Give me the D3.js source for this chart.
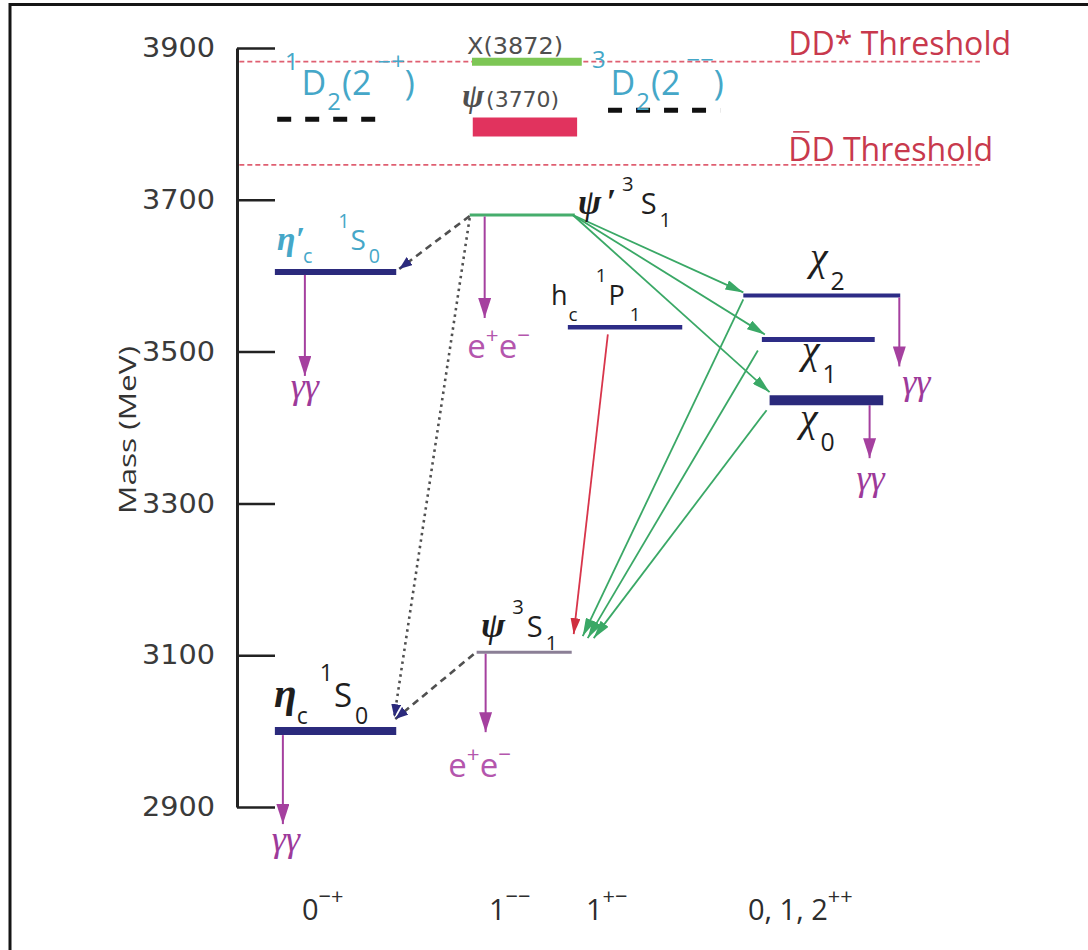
<!DOCTYPE html>
<html>
<head>
<meta charset="utf-8">
<script src="https://cdn.jsdelivr.net/npm/d3@7"></script>
<style>
  body { margin: 0; background: #fff; }
  svg { display: block; }
</style>
</head>
<body>
<script>
// ---- data ----
var massTicks = [2900, 3100, 3300, 3500, 3700, 3900];

var levelIds    = ["etac", "etac2s", "jpsi", "psi2s", "hc", "chi0", "chi1", "chi2", "x3872", "psi3770", "d2singlet", "d2triplet"];
var levelMasses = [3000, 3605, 3104, 3680, 3532, 3436, 3516, 3574, 3882, 3796, 3806, 3818];

var thresholdNames  = ["DD* Threshold", "DD Threshold"];
var thresholdMasses = [3882, 3746];

var columnLabels = [["0", "\u2212+"], ["1", "\u2212\u2212"], ["1", "+\u2212"], ["0, 1, 2", "++"]];

var transitions = [
  {from: "psi2s", to: "chi2", kind: "e1"},
  {from: "psi2s", to: "chi1", kind: "e1"},
  {from: "psi2s", to: "chi0", kind: "e1"},
  {from: "chi2", to: "jpsi", kind: "e1"},
  {from: "chi1", to: "jpsi", kind: "e1"},
  {from: "chi0", to: "jpsi", kind: "e1"},
  {from: "hc", to: "jpsi", kind: "hc"},
  {from: "psi2s", to: "etac2s", kind: "m1"},
  {from: "psi2s", to: "etac", kind: "m1far"},
  {from: "jpsi", to: "etac", kind: "m1"}
];

var decays = [
  {from: "etac2s", product: "gg"},
  {from: "etac", product: "gg"},
  {from: "chi2", product: "gg"},
  {from: "chi0", product: "gg"},
  {from: "psi2s", product: "ee"},
  {from: "jpsi", product: "ee"}
];

// ---- layout ----
var W = 1088, H = 950;
var y = d3.scaleLinear().domain([2900, 3900]).range([807, 48]);
// horizontal position in layout units from the axis
var x = d3.scaleLinear().domain([0, 100]).range([237, 1010]);

var mass = {};
levelIds.forEach(function(id, i) { mass[id] = levelMasses[i]; });

var span = {
  etac: [4.9, 20.6], etac2s: [4.9, 20.6], jpsi: [31.0, 43.3], psi2s: [30.1, 43.7],
  hc: [42.8, 57.6], chi0: [68.9, 83.6], chi1: [67.9, 82.5], chi2: [65.5, 85.8],
  x3872: [30.4, 44.6], psi3770: [30.5, 44.0], d2singlet: [5.2, 19.6], d2triplet: [48.0, 62.5]
};
var levelStyle = {
  etac: ["#2b2a7c", 8], etac2s: ["#2b2a7c", 6], jpsi: ["#8b7f96", 3], psi2s: ["#46ad6c", 3],
  hc: ["#2d2c86", 4.5], chi0: ["#2b2a7c", 10], chi1: ["#2d2c86", 5], chi2: ["#2d2c86", 4],
  x3872: ["#7dc655", 8], psi3770: ["#e1335e", 19], d2singlet: ["#111", 5], d2triplet: ["#111", 5]
};
var kindStyle = {
  e1:    {color: "#3aa866", width: 1.8, dash: null, head: "hGreen"},
  hc:    {color: "#d8354b", width: 1.8, dash: null, head: "hRed"},
  m1:    {color: "#505050", width: 2.6, dash: "7,5", head: "hNavy"},
  m1far: {color: "#505050", width: 2.6, dash: "2.5,4", head: "hNavy"}
};
// transition end points: [fromSide, dx, dy, toSide, dx, dy]
var ends = {
  "psi2s-chi2":  [1, -2, 0, 0, 0, -3],
  "psi2s-chi1":  [1, -2, 0, 0, 3, -5],
  "psi2s-chi0":  [1, -2, 0, 0, 0, -8],
  "chi2-jpsi":   [0, 0, 4, 1, 11, -16],
  "chi1-jpsi":   [0, -4, 11, 1, 16, -14],
  "chi0-jpsi":   [0, -3, 10, 1, 22, -14],
  "hc-jpsi":     [0, 40, 7, 1, 2, -18],
  "psi2s-etac2s":[0, 0, 1, 1, 3, -3],
  "psi2s-etac":  [0, 0, 3, 1, -2, -14],
  "jpsi-etac":   [0, -3, 2, 1, -1, -12]
};
// decay arrow: [x offset from level start (px), length (px), label dx, label dy]
var decayLayout = {
  etac2s: [30, 104, 0, 22], etac: [8, 93, 3, 27], chi2: [156, 71, 17, 28],
  chi0: [100, 58, 1, 32], psi2s: [15, 103, 14, 40], jpsi: [9, 80, -6, 45]
};

var svg = d3.select("body").append("svg").attr("width", W).attr("height", H);
var defs = svg.append("defs");

function marker(id, color, len, wid) {
  defs.append("marker")
    .attr("id", id).attr("viewBox", "0 -5 10 10").attr("refX", 10).attr("refY", 0)
    .attr("markerUnits", "userSpaceOnUse").attr("markerWidth", len).attr("markerHeight", wid)
    .attr("orient", "auto").attr("preserveAspectRatio", "none")
    .append("path").attr("d", "M0,-5L10,0L0,5Z").attr("fill", color);
}
marker("hGreen", "#3aa866", 18, 10);
marker("hRed", "#cf2f3f", 16, 10);
marker("hNavy", "#2b2a7c", 13, 10);
marker("hMag", "#a5409f", 20, 13);

// frame
svg.append("path").attr("d", "M10," + H + "V4.5H" + W)
  .attr("fill", "none").attr("stroke", "#151515").attr("stroke-width", 3);

// axis
var axis = d3.axisLeft(y).tickValues(massTicks).tickSize(-38).tickSizeOuter(0)
  .tickPadding(22).tickFormat(d3.format("d"));
var ax = svg.append("g").attr("transform", "translate(237,0)").call(axis);
ax.select(".domain").attr("stroke", "#222").attr("stroke-width", 3);
ax.selectAll(".tick line").attr("stroke", "#222").attr("stroke-width", 2.5);
ax.selectAll(".tick text")
  .attr("fill", "#3a3a3a").style("font-family", "DejaVu Sans").style("font-size", "27px")
  .attr("textLength", 73).attr("lengthAdjust", "spacingAndGlyphs");

svg.append("text")
  .attr("transform", "translate(136,430) rotate(-90)")
  .attr("text-anchor", "middle").attr("fill", "#333")
  .style("font-family", "Open Sans").style("font-size", "24px")
  .attr("textLength", 168).attr("lengthAdjust", "spacingAndGlyphs")
  .text("Mass (MeV)");

// thresholds
svg.selectAll(".thr").data(thresholdMasses).enter().append("line")
  .attr("x1", x(0.3)).attr("x2", x(96.1))
  .attr("y1", function(d) { return y(d); }).attr("y2", function(d) { return y(d); })
  .attr("stroke", "#df5f71").attr("stroke-width", 1.9).attr("stroke-dasharray", "5,3");

var thrText = svg.selectAll(".thrt").data(thresholdNames).enter().append("text")
  .attr("x", x(71.3))
  .attr("y", function(d, i) { return y(thresholdMasses[i]) - 7 - (i ? -3 : 0); })
  .attr("fill", "#c8394d").style("font-family", "Open Sans").style("font-size", "33px")
  .attr("textLength", function(d, i) { return i ? 205 : 223; })
  .attr("lengthAdjust", "spacingAndGlyphs")
  .text(function(d) { return d; });
// bar over the first D of the DD threshold
(function() {
  var node = thrText.nodes()[1];
  var b = node.getExtentOfChar(0);
  svg.append("line")
    .attr("x1", b.x + 5).attr("x2", b.x + b.width - 2)
    .attr("y1", b.y + 6).attr("y2", b.y + 6)
    .attr("stroke", "#c8394d").attr("stroke-width", 1.6);
})();

// levels
svg.selectAll(".lvl").data(levelIds).enter().append("line")
  .attr("x1", function(d) { return x(span[d][0]); })
  .attr("x2", function(d) { return x(span[d][1]); })
  .attr("y1", function(d) { return y(mass[d]); })
  .attr("y2", function(d) { return y(mass[d]); })
  .attr("stroke", function(d) { return levelStyle[d][0]; })
  .attr("stroke-width", function(d) { return levelStyle[d][1]; })
  .attr("stroke-dasharray", function(d) { return d.indexOf("d2") === 0 ? "14,14" : null; });

// transitions
function endPoint(id, side, dx, dy) {
  return [x(span[id][side]) + dx, y(mass[id]) + dy];
}
svg.selectAll(".tr").data(transitions).enter().append("line")
  .each(function(d) {
    var e = ends[d.from + "-" + d.to];
    var p = endPoint(d.from, e[0], e[1], e[2]);
    var q = endPoint(d.to, e[3], e[4], e[5]);
    var s = kindStyle[d.kind];
    d3.select(this)
      .attr("x1", p[0]).attr("y1", p[1]).attr("x2", q[0]).attr("y2", q[1])
      .attr("stroke", s.color).attr("stroke-width", s.width)
      .attr("stroke-dasharray", s.dash).attr("marker-end", "url(#" + s.head + ")");
  });

// rich text: parts are [text, role, dx]
function rich(g, px, py, parts, o) {
  var t = g.append("text").attr("x", px).attr("y", py).attr("fill", o.color)
    .style("font-family", o.font || "Open Sans").style("font-size", o.size + "px");
  var shift = 0;
  parts.forEach(function(p) {
    var role = p[1] || "n";
    var target = role === "sub" ? o.size * (o.sub || 0.45) : role === "sup" ? -o.size * (o.sup || 0.8) : 0;
    var ts = t.append("tspan").attr("dy", target - shift).text(p[0]);
    if (p[2]) ts.attr("dx", p[2]);
    if (role === "sub" || role === "sup") ts.style("font-size", (o.size * (o.small || 0.7)) + "px");
    if (role === "g" || role === "gi") {
      ts.style("font-family", "Liberation Serif").style("font-style", "italic")
        .style("font-size", (o.size * (o.gs || 1.2)) + "px");
      if (role === "g") ts.style("font-weight", "bold");
    }
    shift = target;
  });
  return t;
}

var labels = svg.append("g");
var cyan = "#45a7c8", ink = "#1e1e1e";
rich(labels, 277, 250, [["\u03b7", "g"], ["\u2032", "g"], ["c", "sub", -2], ["1", "sup", 26], ["S", "n", 1], ["0", "sub", 3]],
  {color: cyan, size: 28});
rich(labels, 274, 707, [["\u03b7", "g"], ["c", "sub"], ["1", "sup", 12], ["S", "n", 1], ["0", "sub", 3]],
  {color: ink, size: 33, sub: 0.5, gs: 1.25});
rich(labels, 578, 214, [["\u03c8", "g"], ["\u2032", "g", 5], ["3", "sup", 6], ["S", "n", 7], ["1", "sub", 3]],
  {color: ink, size: 29});
rich(labels, 481, 637, [["\u03c8", "g"], ["3", "sup", 7], ["S", "n", 3], ["1", "sub", 3]],
  {color: ink, size: 29, gs: 1.25});
rich(labels, 551, 305, [["h"], ["c", "sub", 1], ["1", "sup", 18], ["P", "n", 2], ["1", "sub", 5]],
  {color: ink, size: 27, sub: 0.6, sup: 0.85});
[["chi2", 810, 270, "2"], ["chi1", 802, 363, "1"], ["chi0", 800, 431, "0"]].forEach(function(c) {
  rich(labels, c[1], c[2], [["\u03c7", "gi"], [c[3], "sub", 3]],
    {color: ink, size: 40, gs: 1, sub: 0.5, small: 0.62});
});
rich(labels, 285, 95, [["1", "sup"], ["D", "n", 3], ["2", "sub", 1], ["(2", "n", 1], [" \u2212+", "sup"], [")", "n", 0]],
  {color: cyan, size: 34, sup: 0.75, small: 0.7});
rich(labels, 592, 95, [["3", "sup"], ["D", "n", 5], ["2", "sub", 1], ["(2", "n", 1], [" \u2212\u2212", "sup"], [")", "n", 0]],
  {color: cyan, size: 34, sup: 0.78, small: 0.7});
labels.append("text").attr("x", 467).attr("y", 54).attr("fill", "#4f4f4f")
  .style("font-family", "DejaVu Sans").style("font-size", "23px")
  .attr("textLength", 96).attr("lengthAdjust", "spacingAndGlyphs").text("X(3872)");
rich(labels, 462, 107, [["\u03c8", "g"], ["(3770)", "n", 2]],
  {color: "#4f4f4f", size: 22, gs: 1.5, font: "DejaVu Sans"});

// decays
decays.forEach(function(d) {
  var L = decayLayout[d.from];
  var px = x(span[d.from][0]) + L[0];
  var y0 = y(mass[d.from]) + levelStyle[d.from][1] / 2;
  var y1 = y(mass[d.from]) + L[1];
  svg.append("line").attr("x1", px).attr("x2", px).attr("y1", y0).attr("y2", y1)
    .attr("stroke", "#a5409f").attr("stroke-width", 2).attr("marker-end", "url(#hMag)");
  if (d.product === "gg") {
    svg.append("text").attr("x", px + L[2]).attr("y", y1 + L[3]).attr("text-anchor", "middle")
      .attr("fill", "#9d3a9a").style("font-family", "Liberation Serif").style("font-style", "italic")
      .style("font-size", "36px").text("\u03b3\u03b3");
  } else {
    var t = rich(svg, px + L[2], y1 + L[3], [["e"], ["+", "sup"], ["e"], ["\u2212", "sup"]],
      {color: "#b456ad", size: 33, sup: 0.45, small: 0.68});
    t.attr("text-anchor", "middle");
  }
});

// column quantum numbers
var colX = [302, 489, 586, 748];
columnLabels.forEach(function(c, i) {
  rich(svg, colX[i], 920, [[c[0]], [c[1], "sup"]], {color: "#2d2d2d", size: 29, sup: 0.55, small: 0.75});
});
</script>
</body>
</html>
